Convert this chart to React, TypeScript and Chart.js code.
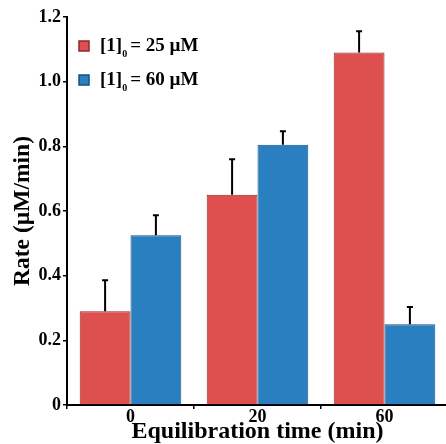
import React, { useEffect, useRef } from "react";
import { Chart, registerables } from "chart.js";
Chart.register(...registerables);

const categories = ["0", "20", "60"];
const seriesNames = ["25 µM", "60 µM"];
const red25 = [0.29, 0.65, 1.09];
const blue60 = [0.525, 0.805, 0.25];
const errRed = [0.096, 0.11, 0.066];
const errBlue = [0.062, 0.042, 0.053];
const yTicks = [0, 0.2, 0.4, 0.6, 0.8, 1.0, 1.2];

const SERIF = "'Liberation Serif', 'Times New Roman', serif";

const errorBarPlugin = {
  id: "errorBars",
  afterDatasetsDraw(chart: any) {
    const ctx = chart.ctx;
    const yScale = chart.scales.y;
    const errs = [errRed, errBlue];
    chart.data.datasets.forEach((ds: any, di: number) => {
      const meta = chart.getDatasetMeta(di);
      meta.data.forEach((el: any, i: number) => {
        const v = ds.data[i];
        const top = yScale.getPixelForValue(v + errs[di][i]);
        const base = yScale.getPixelForValue(v);
        ctx.save();
        ctx.strokeStyle = "#000";
        ctx.lineWidth = 2;
        ctx.beginPath();
        ctx.moveTo(el.x, base);
        ctx.lineTo(el.x, top);
        ctx.moveTo(el.x - 3, top);
        ctx.lineTo(el.x + 3, top);
        ctx.stroke();
        ctx.restore();
      });
    });
  },
};

const legendPlugin = {
  id: "customLegend",
  afterDraw(chart: any) {
    const ctx = chart.ctx;
    const { left, top } = chart.chartArea;
    const colors = [
      { fill: "#de5050", stroke: "#8e2a2a" },
      { fill: "#2a7fc0", stroke: "#18507f" },
    ];
    seriesNames.forEach((name, i) => {
      const y = top + 29 + i * 34;
      ctx.save();
      ctx.fillStyle = colors[i].fill;
      ctx.strokeStyle = colors[i].stroke;
      ctx.lineWidth = 1.5;
      ctx.fillRect(left + 12, y - 5, 10, 10);
      ctx.strokeRect(left + 12, y - 5, 10, 10);
      ctx.fillStyle = "#000";
      ctx.textBaseline = "middle";
      ctx.textAlign = "left";
      let x = left + 33;
      ctx.font = `bold 19px ${SERIF}`;
      ctx.fillText("[1]", x, y);
      x += ctx.measureText("[1]").width;
      ctx.font = `bold 10px ${SERIF}`;
      ctx.fillText("0", x, y + 8);
      x += ctx.measureText("0").width + 3;
      ctx.font = `bold 19px ${SERIF}`;
      ctx.fillText("= " + name, x, y);
      ctx.restore();
    });
  },
};

export default function App() {
  const ref = useRef<HTMLCanvasElement>(null);
  useEffect(() => {
    const chart = new Chart(ref.current!, {
      type: "bar",
      data: {
        labels: categories,
        datasets: [
          {
            label: seriesNames[0],
            data: red25,
            backgroundColor: "#de5050",
            borderColor: "#8e2a2a",
            borderWidth: 1,
            categoryPercentage: 0.8,
            barPercentage: 1.0,
          },
          {
            label: seriesNames[1],
            data: blue60,
            backgroundColor: "#2a7fc0",
            borderColor: "#18507f",
            borderWidth: 1,
            categoryPercentage: 0.8,
            barPercentage: 1.0,
          },
        ],
      },
      options: {
        animation: false,
        responsive: false,
        maintainAspectRatio: false,
        layout: { padding: { top: 17, right: 0, left: 0, bottom: 0 } },
        plugins: { legend: { display: false }, tooltip: { enabled: false } },
        scales: {
          x: {
            offset: true,
            border: { display: true, color: "#000", width: 2 },
            grid: {
              display: true,
              drawOnChartArea: false,
              drawTicks: true,
              tickLength: 4,
              color: "#000",
              lineWidth: 1.5,
              offset: true,
            },
            ticks: {
              color: "#000",
              padding: -2,
              font: { family: SERIF, size: 18, weight: "bold" },
            },
            title: {
              display: true,
              text: "Equilibration time (min)",
              color: "#000",
              font: { family: SERIF, size: 24, weight: "bold", lineHeight: 1.0 },
              padding: { top: 0, bottom: 0 },
            },
            afterFit: (s: any) => {
              s.height = 39;
            },
          },
          y: {
            min: 0,
            max: 1.2,
            border: { display: true, color: "#000", width: 2 },
            grid: {
              display: true,
              drawOnChartArea: false,
              drawTicks: true,
              tickLength: 4,
              color: "#000",
              lineWidth: 1.5,
            },
            afterBuildTicks: (s: any) => {
              s.ticks = yTicks.map((v) => ({ value: v }));
            },
            ticks: {
              color: "#000",
              padding: 2,
              font: { family: SERIF, size: 18, weight: "bold" },
              callback: (v: any) => (Number(v) === 0 ? "0" : Number(v).toFixed(1)),
            },
            title: {
              display: true,
              text: "Rate (µM/min)",
              color: "#000",
              font: { family: SERIF, size: 23.5, weight: "bold", lineHeight: 1.0 },
              padding: { top: 11, bottom: 0 },
            },
            afterFit: (s: any) => {
              s.width = 67;
            },
          },
        },
      },
      plugins: [errorBarPlugin, legendPlugin],
    } as any);
    return () => chart.destroy();
  }, []);
  return (
    <div style={{ position: "fixed", left: 0, top: 0, width: 446, height: 444, overflow: "hidden", background: "#fff" }}>
      <canvas ref={ref} width={448} height={444} style={{ display: "block" }} />
    </div>
  );
}
